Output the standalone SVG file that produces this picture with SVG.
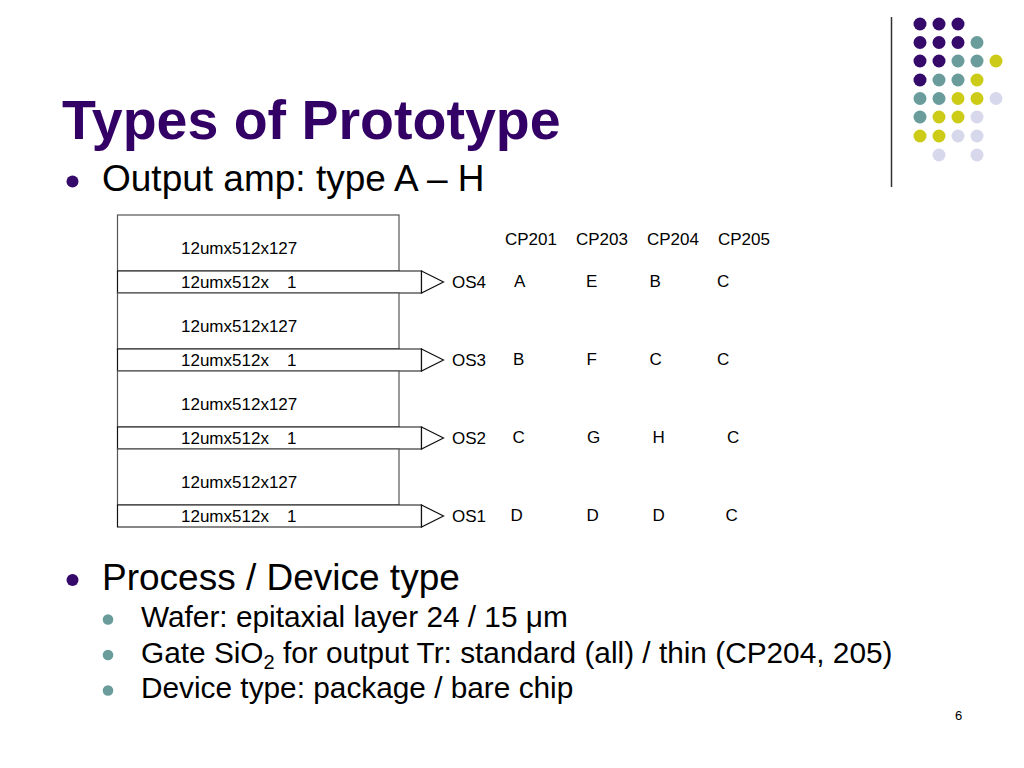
<svg xmlns="http://www.w3.org/2000/svg" width="1024" height="768" viewBox="0 0 1024 768">
<style>
text{font-family:"Liberation Sans",Arial,Helvetica,sans-serif;fill:#000}
.title{font-size:55.5px;font-weight:bold;fill:#330066}
.l1{font-size:37px}
.l2{font-size:29.8px}
.d{font-size:17px}
.box{fill:#fff;stroke:#555;stroke-width:1.2}
.bar{fill:#fff;stroke:#111;stroke-width:1.2}
.p{fill:#360a6a}.t{fill:#6a9c9c}.y{fill:#cccc18}.v{fill:#d8d8ec}
.b1{fill:#360a6a}.b2{fill:#6a9c9c}
</style>
<rect width="1024" height="768" fill="#fff"/>
<g id="decor">
<line x1="891.5" y1="17" x2="891.5" y2="187" stroke="#333" stroke-width="1.5"/>
<g id="dots">
<circle class="p" cx="920" cy="24" r="6.5"/><circle class="p" cx="939" cy="24" r="6.5"/><circle class="p" cx="958" cy="24" r="6.5"/>
<circle class="p" cx="920" cy="42.5" r="6.5"/><circle class="p" cx="939" cy="42.5" r="6.5"/><circle class="p" cx="958" cy="42.5" r="6.5"/><circle class="t" cx="977" cy="42.5" r="6.5"/>
<circle class="p" cx="920" cy="61" r="6.5"/><circle class="p" cx="939" cy="61" r="6.5"/><circle class="t" cx="958" cy="61" r="6.5"/><circle class="t" cx="977" cy="61" r="6.5"/><circle class="y" cx="996" cy="61" r="6.5"/>
<circle class="p" cx="920" cy="80" r="6.5"/><circle class="t" cx="939" cy="80" r="6.5"/><circle class="t" cx="958" cy="80" r="6.5"/><circle class="y" cx="977" cy="80" r="6.5"/>
<circle class="t" cx="920" cy="98.5" r="6.5"/><circle class="t" cx="939" cy="98.5" r="6.5"/><circle class="y" cx="958" cy="98.5" r="6.5"/><circle class="y" cx="977" cy="98.5" r="6.5"/><circle class="v" cx="996" cy="98.5" r="6.5"/>
<circle class="t" cx="920" cy="117" r="6.5"/><circle class="y" cx="939" cy="117" r="6.5"/><circle class="y" cx="958" cy="117" r="6.5"/><circle class="v" cx="977" cy="117" r="6.5"/>
<circle class="y" cx="920" cy="136" r="6.5"/><circle class="y" cx="939" cy="136" r="6.5"/><circle class="v" cx="958" cy="136" r="6.5"/><circle class="v" cx="977" cy="136" r="6.5"/>
<circle class="v" cx="939" cy="155" r="6.5"/><circle class="v" cx="977" cy="155" r="6.5"/>
</g>
</g>
<g id="title"><text class="title" x="62" y="139">Types of Prototype</text></g>
<g id="bullet-output">
<circle class="b1" cx="72.5" cy="181.5" r="6"/>
<text class="l1" x="102" y="191">Output amp: type A – H</text>
</g>
<g id="sections">
<g id="sec4">
<rect class="box" x="117.5" y="215" width="281.5" height="56"/>
<polygon class="bar" points="117.5,271 421.5,271 421.5,293 117.5,293"/>
<polygon class="bar" points="421.5,271 443.5,282 421.5,293"/>
<text class="d" x="181" y="254">12umx512x127</text>
<text class="d" x="181" y="288" xml:space="preserve">12umx512x   <tspan dx="4">1</tspan></text>
<text class="d" x="452" y="288">OS4</text>
</g>
<g id="sec3">
<rect class="box" x="117.5" y="293" width="281.5" height="56"/>
<polygon class="bar" points="117.5,349 421.5,349 421.5,371 117.5,371"/>
<polygon class="bar" points="421.5,349 443.5,360 421.5,371"/>
<text class="d" x="181" y="332">12umx512x127</text>
<text class="d" x="181" y="366" xml:space="preserve">12umx512x   <tspan dx="4">1</tspan></text>
<text class="d" x="452" y="366">OS3</text>
</g>
<g id="sec2">
<rect class="box" x="117.5" y="371" width="281.5" height="56"/>
<polygon class="bar" points="117.5,427 421.5,427 421.5,449 117.5,449"/>
<polygon class="bar" points="421.5,427 443.5,438 421.5,449"/>
<text class="d" x="181" y="410">12umx512x127</text>
<text class="d" x="181" y="444" xml:space="preserve">12umx512x   <tspan dx="4">1</tspan></text>
<text class="d" x="452" y="444">OS2</text>
</g>
<g id="sec1">
<rect class="box" x="117.5" y="449" width="281.5" height="56"/>
<polygon class="bar" points="117.5,505 421.5,505 421.5,527 117.5,527"/>
<polygon class="bar" points="421.5,505 443.5,516 421.5,527"/>
<text class="d" x="181" y="488">12umx512x127</text>
<text class="d" x="181" y="522" xml:space="preserve">12umx512x   <tspan dx="4">1</tspan></text>
<text class="d" x="452" y="522">OS1</text>
</g>
</g>
<g id="connectors"></g>
<g id="table">
<text class="d" x="505" y="245">CP201</text>
<text class="d" x="576" y="245">CP203</text>
<text class="d" x="647" y="245">CP204</text>
<text class="d" x="718" y="245">CP205</text>
<text class="d" x="514" y="287">A</text><text class="d" x="586" y="287">E</text><text class="d" x="649.5" y="287">B</text><text class="d" x="717" y="287">C</text>
<text class="d" x="513" y="365">B</text><text class="d" x="586.5" y="365">F</text><text class="d" x="649.5" y="365">C</text><text class="d" x="717" y="365">C</text>
<text class="d" x="512.5" y="443">C</text><text class="d" x="587" y="443">G</text><text class="d" x="652.5" y="443">H</text><text class="d" x="727" y="443">C</text>
<text class="d" x="510.5" y="521">D</text><text class="d" x="586.5" y="521">D</text><text class="d" x="652.5" y="521">D</text><text class="d" x="725.5" y="521">C</text>
</g>
<g id="bullet-process">
<circle class="b1" cx="72.5" cy="580" r="6"/>
<text class="l1" x="102" y="590">Process / Device type</text>
<circle class="b2" cx="108" cy="619.5" r="5.3"/>
<text class="l2" x="141" y="627">Wafer: epitaxial layer 24 / 15 μm</text>
<circle class="b2" cx="108" cy="655" r="5.3"/>
<text class="l2" x="141" y="663">Gate SiO<tspan font-size="20" dy="6">2</tspan><tspan dy="-6"> for output Tr: standard (all) / thin (CP204, 205)</tspan></text>
<circle class="b2" cx="108" cy="690.5" r="5.3"/>
<text class="l2" x="141" y="698">Device type: package / bare chip</text>
</g>
<text x="955" y="720" font-size="13">6</text>
</svg>
